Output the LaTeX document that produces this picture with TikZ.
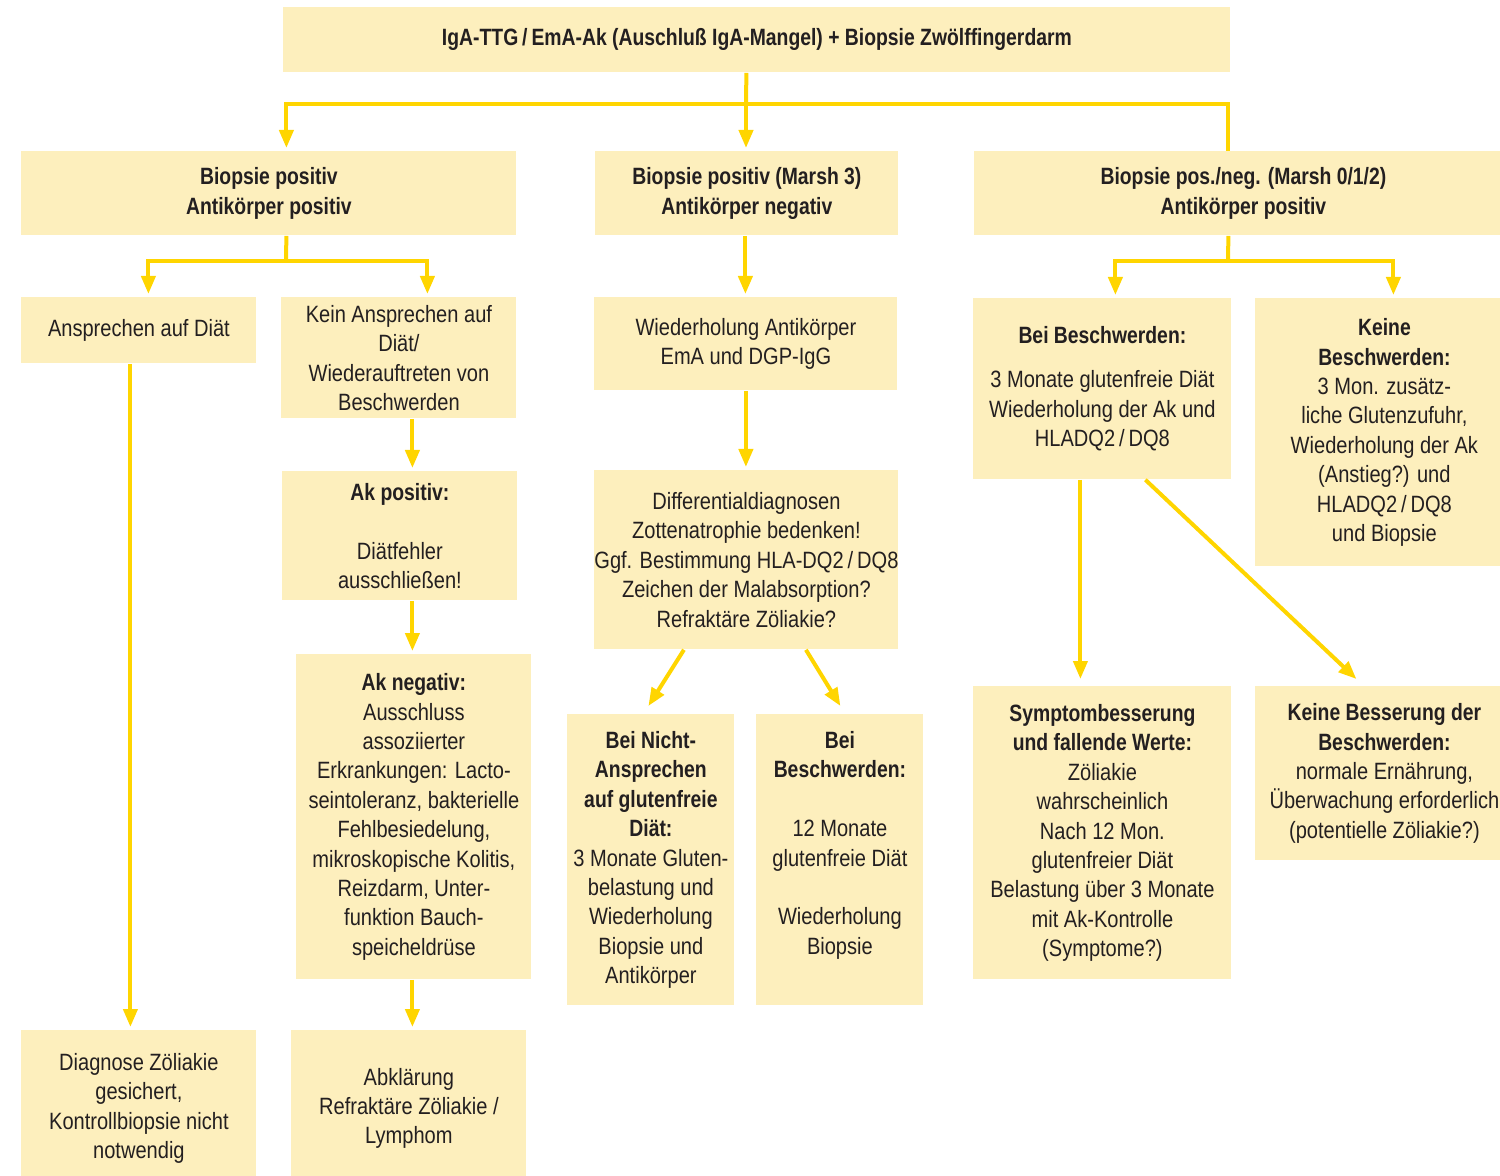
\documentclass[tikz,border=0pt]{standalone}
\usepackage{fontspec}
\setmainfont{Liberation Sans}[UprightFeatures={FakeStretch=0.85},BoldFeatures={FakeStretch=0.82}]
\usetikzlibrary{arrows.meta}
\definecolor{boxc}{HTML}{FDEFBD}
\definecolor{arrc}{HTML}{FFD500}
\definecolor{txtc}{HTML}{231F20}
\newcommand\bt[1]{\textbf{#1}}
\begin{document}
\begin{tikzpicture}[x=0.5pt,y=-0.5pt,
  box/.style={fill=boxc, inner sep=0pt, align=center, anchor=north west, text=txtc,
    font=\fontsize{11.8}{14.7}\selectfont},
  ln/.style={draw=arrc, line width=2pt},
  arr/.style={ln, -{Triangle[length=9pt,width=7pt]}, shorten >=1.5pt}]
\useasboundingbox (0,0) rectangle (1500,1176);
\clip (0,0) rectangle (1500,1176);

\node[box, minimum width=473.5pt, minimum height=32.5pt] (top) at (283,7)
  {\bt{IgA-TTG\,/\,EmA-Ak (Auschluß IgA-Mangel) + Biopsie Zwölffingerdarm}};
\node[box, minimum width=247.5pt, minimum height=42pt] (b1) at (21,151)
  {\bt{Biopsie positiv}\\\bt{Antikörper positiv}};
\node[box, minimum width=151.5pt, minimum height=42pt] (b2) at (595,151)
  {\bt{Biopsie positiv (Marsh 3)}\\\bt{Antikörper negativ}};
\node[box, minimum width=269pt, minimum height=42pt] (b3) at (974,151)
  {\bt{Biopsie pos./neg. (Marsh 0/1/2)}\\\bt{Antikörper positiv}};

\node[box, minimum width=117.5pt, minimum height=33pt] (c1) at (21,297)
  {Ansprechen auf Diät};
\node[box, minimum width=117.5pt, minimum height=60.5pt] (c2) at (281,297)
  {Kein Ansprechen auf\\Diät/\\Wiederauftreten von\\Beschwerden};
\node[box, minimum width=117.5pt, minimum height=64.5pt] (akpos) at (282,471)
  {\bt{Ak positiv:}\\[14.7pt]Diätfehler\\ausschließen!};
\node[box, minimum width=117.5pt, minimum height=162.5pt] (akneg) at (296,654)
  {\bt{Ak negativ:}\\Ausschluss\\assoziierter\\Erkrankungen: Lacto-\\seintoleranz, bakterielle\\Fehlbesiedelung,\\mikroskopische Kolitis,\\Reizdarm, Unter-\\funktion Bauch-\\speicheldrüse};
\node[box, minimum width=117.5pt, minimum height=78pt] (d1) at (21,1030)
  {Diagnose Zöliakie\\gesichert,\\Kontrollbiopsie nicht\\notwendig};
\node[box, minimum width=117.5pt, minimum height=78pt] (abkl) at (291,1030)
  {Abklärung\\Refraktäre Zöliakie /\\Lymphom};

\node[box, minimum width=151.5pt, minimum height=46.5pt] (m1) at (594,297)
  {Wiederholung Antikörper\\EmA und DGP-IgG};
\node[box, minimum width=151.5pt, minimum height=89.5pt] (m2) at (594,470)
  {Differentialdiagnosen\\Zottenatrophie bedenken!\\Ggf. Bestimmung HLA-DQ2\,/\,DQ8\\Zeichen der Malabsorption?\\Refraktäre Zöliakie?};
\node[box, minimum width=83.5pt, minimum height=145.5pt] (m3) at (567,714)
  {\bt{Bei Nicht-}\\\bt{Ansprechen}\\\bt{auf glutenfreie}\\\bt{Diät:}\\3 Monate Gluten-\\belastung und\\Wiederholung\\Biopsie und\\Antikörper};
\node[box, minimum width=83.5pt, minimum height=145.5pt] (m4) at (756,714)
  {\bt{Bei}\\\bt{Beschwerden:}\\[14.7pt]12 Monate\\glutenfreie Diät\\[14.7pt]Wiederholung\\Biopsie\\\phantom{Biopsie}};

\node[box, minimum width=129pt, minimum height=90.5pt] (r1) at (973,298)
  {\bt{Bei Beschwerden:}\\[7.35pt]3 Monate glutenfreie Diät\\Wiederholung der Ak und\\HLADQ2\,/\,DQ8};
\node[box, minimum width=129pt, minimum height=134pt] (r2) at (1255,298)
  {\bt{Keine}\\\bt{Beschwerden:}\\3 Mon. zusätz-\\liche Glutenzufuhr,\\Wiederholung der Ak\\(Anstieg?) und\\HLADQ2\,/\,DQ8\\und Biopsie};
\node[box, minimum width=129pt, minimum height=146.5pt] (r3) at (973,686)
  {\bt{Symptombesserung}\\\bt{und fallende Werte:}\\Zöliakie\\wahrscheinlich\\Nach 12 Mon.\\glutenfreier Diät\\Belastung über 3 Monate\\mit Ak-Kontrolle\\(Symptome?)};
\node[box, minimum width=129pt, minimum height=87pt] (r4) at (1255,686)
  {\bt{Keine Besserung der}\\\bt{Beschwerden:}\\normale Ernährung,\\Überwachung erforderlich\\(potentielle Zöliakie?)};

% connectors
\coordinate (j1) at (746,104);
\draw[ln] ([xshift=-5.25pt]top.south) -- (j1);
\draw[arr] (j1) -| ([xshift=8.75pt]b1.north);
\draw[arr] (j1) -- (j1 |- b2.north);
\draw[ln] (j1) -| ([xshift=-7.5pt]b3.north);

\coordinate (j2) at (286,261);
\draw[ln] ([xshift=8.75pt]b1.south) -- (j2);
\draw[arr] (j2) -| ([xshift=4.75pt]c1.north);
\draw[arr] (j2) -| ([xshift=14.25pt]c2.north);
\draw[arr] ([xshift=-4.25pt]c1.south) -- ([xshift=-4.25pt]d1.north);
\draw[arr] ([xshift=6.75pt]c2.south) -- ([xshift=6.75pt]c2.south |- akpos.north);
\draw[arr] ([xshift=6.25pt]akpos.south) -- ([xshift=6.25pt]akpos.south |- akneg.north);
\draw[arr] ([xshift=-0.75pt]akneg.south) -- ([xshift=-0.75pt]akneg.south |- abkl.north);

\draw[arr] ([xshift=-0.75pt]b2.south) -- ([xshift=-0.75pt]b2.south |- m1.north);
\draw[arr] (m1.south) -- (m1.south |- m2.north);
\draw[arr, shorten >=0pt] ([xshift=-31.25pt]m2.south) -- ([xshift=-1.25pt,yshift=4pt]m3.north);
\draw[arr, shorten >=0pt] ([xshift=29.75pt]m2.south) -- ([xshift=0.25pt,yshift=4pt]m4.north);

\coordinate (j3) at (1228,261);
\draw[ln] ([xshift=-7.5pt]b3.south) -- (j3);
\draw[arr] (j3) -| ([xshift=6.5pt]r1.north);
\draw[arr] (j3) -| ([xshift=4.5pt]r2.north);
\draw[arr, shorten >=3.5pt] ([xshift=-11pt]r1.south) -- ([xshift=-11pt]r1.south |- r3.north);
\draw[arr, shorten >=0pt] ([xshift=21.5pt]r1.south) -- ([xshift=-14pt,yshift=3.5pt]r4.north);
\end{tikzpicture}
\end{document}
